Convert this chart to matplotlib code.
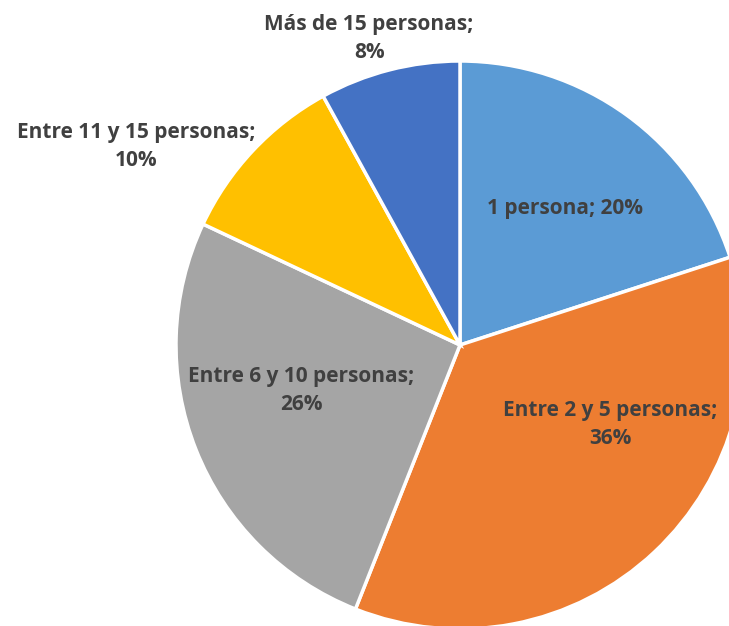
import numpy as np
import matplotlib.pyplot as plt

categorias = ["1 persona", "Entre 2 y 5 personas", "Entre 6 y 10 personas",
              "Entre 11 y 15 personas", "Más de 15 personas"]
porcentajes = [20, 36, 26, 10, 8]
colores = ["#5B9BD5", "#ED7D31", "#A5A5A5", "#FFC000", "#4472C4"]
etiquetas = ["1 persona; 20%", "Entre 2 y 5 personas;\n36%", "Entre 6 y 10 personas;\n26%",
             "Entre 11 y 15 personas;\n10%", "Más de 15 personas;\n8%"]
# label position relative to the pie centre, in radius units
pos_etiquetas = [(0.37, 0.48), (0.53, -0.28), (-0.56, -0.16), (-1.14, 0.70), (-0.32, 1.08)]

W, H = 729, 626
cx, cy, R = 460, H - 345, 284

fig = plt.figure(figsize=(W / 100, H / 100), dpi=100)
ax = fig.add_axes([0, 0, 1, 1])
ax.set_xlim(0, W)
ax.set_ylim(0, H)
ax.set_aspect("equal")
ax.axis("off")

ax.pie(porcentajes, colors=colores, startangle=90, counterclock=False,
       center=(cx, cy), radius=R,
       wedgeprops=dict(edgecolor="white", linewidth=2.5))
ax.set_xlim(0, W)
ax.set_ylim(0, H)

for txt, (dx, dy) in zip(etiquetas, pos_etiquetas):
    ax.text(cx + dx * R, cy + dy * R, txt, ha="center", va="center",
            fontsize=15, fontweight="bold", color="#404040", linespacing=1.45,
            family=["Open Sans", "DejaVu Sans"])

fig.savefig("out.png", dpi=100)
